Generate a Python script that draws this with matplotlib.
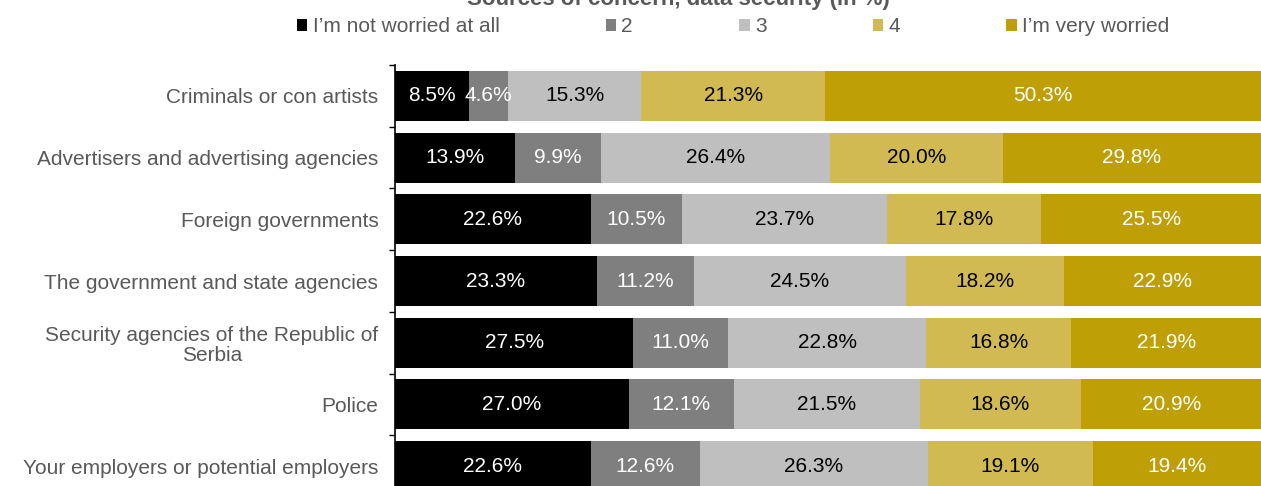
import matplotlib.pyplot as plt
from matplotlib.patches import Patch

plt.rcParams['font.family'] = ['Liberation Sans', 'DejaVu Sans']

categories = [
    "Criminals or con artists",
    "Advertisers and advertising agencies",
    "Foreign governments",
    "The government and state agencies",
    "Security agencies of the Republic of\nSerbia",
    "Police",
    "Your employers or potential employers",
]
series_names = ["I\u2019m not worried at all", "2", "3", "4", "I\u2019m very worried"]
values = [
    [8.5, 13.9, 22.6, 23.3, 27.5, 27.0, 22.6],
    [4.6, 9.9, 10.5, 11.2, 11.0, 12.1, 12.6],
    [15.3, 26.4, 23.7, 24.5, 22.8, 21.5, 26.3],
    [21.3, 20.0, 17.8, 18.2, 16.8, 18.6, 19.1],
    [50.3, 29.8, 25.5, 22.9, 21.9, 20.9, 19.4],
]
colors = ["#000000", "#7f7f7f", "#bfbfbf", "#d1ba52", "#bf9f06"]
text_colors = ["white", "white", "black", "black", "white"]
fs = 15

W, H = 1261, 486
fig = plt.figure(figsize=(W / 100, H / 100), dpi=100)
ax = fig.add_axes([395 / W, 1 - 497 / H, (W - 395) / W, 432 / H])

y = list(range(len(categories)))
left = [0.0] * len(categories)
for vals, col, tc in zip(values, colors, text_colors):
    ax.barh(y, vals, left=left, height=0.81, color=col)
    for yi, l, v in zip(y, left, vals):
        ax.text(l + v / 2, yi, f"{v:.1f}%", ha="center", va="center",
                color=tc, fontsize=fs)
    left = [a + b for a, b in zip(left, vals)]

ax.set_xlim(0, 100)
ax.set_ylim(len(categories) - 0.5, -0.5)
ax.set_yticks(y)
ax.set_yticklabels(categories, color="#595959", fontsize=fs, linespacing=1.1)
for lab in ax.get_yticklabels():
    lab.set_multialignment("center")
ax.tick_params(axis="y", which="major", length=0, pad=12)
ax.set_yticks([i + 0.5 for i in range(-1, len(categories))], minor=True)
ax.tick_params(axis="y", which="minor", length=4, width=1, color="black")
ax.set_xticks([])
for s in ["top", "right", "bottom"]:
    ax.spines[s].set_visible(False)
ax.spines["left"].set_linewidth(1.2)

handles = [Patch(facecolor=c) for c in colors]
fig.legend(handles, series_names, loc="center left", bbox_to_anchor=(297 / W, 1 - 27 / H),
           ncol=5, frameon=False, fontsize=fs, labelcolor="#595959",
           handlelength=0.5, handleheight=0.5, handletextpad=0.25,
           columnspacing=5.1, borderpad=0, borderaxespad=0)

fig.text(678 / W, 1 - 5 / H, "Sources of concern, data security (in %)", ha="center",
         va="baseline", fontsize=16, fontweight="bold", color="#595959")

fig.savefig("out.png", dpi=100)
